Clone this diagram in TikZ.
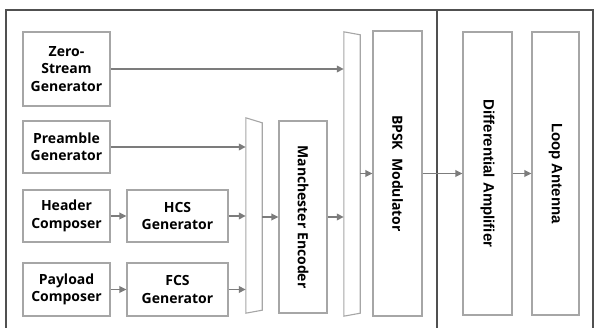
\documentclass[tikz,border=0pt]{standalone}
\usepackage{fontspec}
\setmainfont{Open Sans}
\newfontfamily\arialfont{Liberation Sans}
\usetikzlibrary{arrows.meta}
\definecolor{BoxLine}{HTML}{A6A6A6}
\definecolor{ArrowGray}{HTML}{7C7C7C}
\definecolor{FrameLine}{HTML}{505050}

\begin{document}
\begin{tikzpicture}[
	x=1pt, y=-1pt, % pixel-like units, y going down
	% Style for the plain blocks
	block/.style={
		rectangle,
		draw=BoxLine,         % light grey border
		fill=white,
		line width=1.1pt,
		inner sep=0pt,
		align=center,
		font=\fontsize{14}{17.5}\selectfont\bfseries
	},
	% Style for the text standing on end
	vtext/.style={
		rotate=-90,
		inner sep=0pt,
		font=\fontsize{14}{17.5}\selectfont\bfseries
	},
	% Style for the muxes (only named here, drawn by hand)
	mux/.style={
		rectangle,
		inner sep=0pt,
		minimum width=16
	},
	muxline/.style={
		draw=BoxLine,
		fill=white,
		line width=1.1pt
	},
	% Style for the arrows between blocks
	edge/.style={
		draw=ArrowGray,
		line width=1.8pt,
		-{Triangle[length=7pt,width=6.5pt]}
	},
	% Style for the two outer frames
	frame/.style={
		draw=FrameLine,
		line width=1.4pt
	}
	]
	
	\useasboundingbox[fill=white] (0,0) rectangle (594,328);
	
	% 1. Frames
	\draw[frame] (6,328) -- (6,10) -- (593,10) -- (593,328);
	\draw[frame] (437,10) -- (437,328);
	
	% 2. Blocks
	\node[block, minimum width=87, minimum height=74] (zs) at (66.5,69) {Zero-\\Stream\\Generator};
	\node[block, minimum width=87, minimum height=52] (pre) at (66.5,147) {Preamble\\Generator};
	\node[block, minimum width=87, minimum height=52] (hdr) at (66.5,216) {Header\\Composer};
	\node[block, minimum width=87, minimum height=53] (pay) at (66.5,289.5) {Payload\\Composer};
	\node[block, minimum width=101, minimum height=52] (hcs) at (177.5,216) {HCS\\Generator};
	\node[block, minimum width=101, minimum height=53] (fcs) at (177.5,289.5) {FCS\\Generator};
	
	\node[mux, minimum height=195] (mux1) at (254,215.5) {};
	\draw[muxline] (mux1.north west) -- ([yshift=-5pt]mux1.north east)
		-- ([yshift=3pt]mux1.south east) -- (mux1.south west) -- cycle;
	\node[mux, minimum height=284] (mux2) at (352,174) {};
	\draw[muxline] (mux2.north west) -- ([yshift=-3pt]mux2.north east)
		-- ([yshift=3pt]mux2.south east) -- (mux2.south west) -- cycle;
	
	\node[block, minimum width=48, minimum height=192,
		label={[vtext]center:Manchester Encoder}] (manch) at (303,217) {};
	\node[block, minimum width=49, minimum height=285,
		label={[vtext]center:BPSK\hspace{8pt}Modulator}] (bpsk) at (397.5,173.5) {};
	\node[block, minimum width=49, minimum height=283,
		label={[vtext, font=\arialfont\fontsize{15}{18}\selectfont\bfseries]center:Differential Amplifier}] (diff) at (487.5,173.5) {};
	\node[block, minimum width=47, minimum height=283,
		label={[vtext, font=\arialfont\fontsize{15}{18}\selectfont\bfseries]center:Loop Antenna}] (loop) at (555.5,173.5) {};
	
	% 3. Arrows
	\draw[edge] (zs) -- (zs -| mux2.west);
	\draw[edge] (pre) -- (pre -| mux1.west);
	\draw[edge] (hdr) -- (hcs);
	\draw[edge] (pay) -- (fcs);
	\draw[edge] (hcs) -- (hcs -| mux1.west);
	\draw[edge] (fcs) -- (fcs -| mux1.west);
	
	\draw[edge] (mux1.east |- manch) -- (manch);
	\draw[edge] (manch) -- (manch -| mux2.west);
	\draw[edge] (mux2.east |- bpsk) -- (bpsk);
	
	\draw[edge] (bpsk) -- (diff);
	\draw[edge] (diff) -- (loop);
	
\end{tikzpicture}
\end{document}
